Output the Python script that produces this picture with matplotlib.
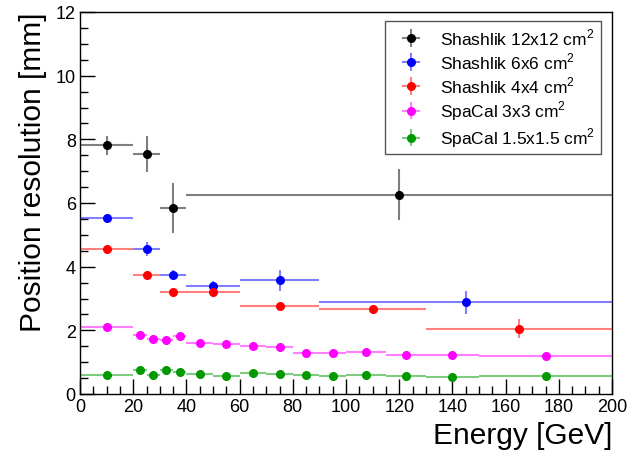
import matplotlib
matplotlib.use("Agg")
import matplotlib.pyplot as plt
from matplotlib.colors import to_rgba
from matplotlib.ticker import MultipleLocator

plt.rcParams['font.family'] = ['Liberation Sans', 'DejaVu Sans']
plt.rcParams['mathtext.fontset'] = 'custom'
plt.rcParams['mathtext.rm'] = 'Liberation Sans'

# Shashlik 12x12 cm^2
sh12_x = [10, 25, 35, 120]
sh12_xlo = [10, 5, 5, 80]
sh12_xhi = [10, 5, 5, 80]
sh12_y = [7.81, 7.54, 5.84, 6.26]
sh12_yerr = [0.30, 0.58, 0.78, 0.80]

# Shashlik 6x6 cm^2
sh6_x = [10, 25, 35, 50, 75, 145]
sh6_xlo = [10, 5, 5, 10, 15, 55]
sh6_xhi = [10, 5, 5, 10, 15, 55]
sh6_y = [5.52, 4.56, 3.75, 3.40, 3.58, 2.88]
sh6_yerr = [0.05, 0.22, 0.15, 0.15, 0.33, 0.37]

# Shashlik 4x4 cm^2
sh4_x = [10, 25, 35, 50, 75, 110, 165]
sh4_xlo = [10, 5, 5, 10, 15, 20, 35]
sh4_xhi = [10, 5, 5, 10, 15, 20, 35]
sh4_y = [4.56, 3.74, 3.21, 3.21, 2.76, 2.66, 2.05]
sh4_yerr = [0.05, 0.12, 0.06, 0.08, 0.10, 0.15, 0.30]

# SpaCal energy bins (shared by both SpaCal modules)
sp_x = [10, 22.5, 27.5, 32.5, 37.5, 45, 55, 65, 75, 85, 95, 107.5, 122.5, 140, 175]
sp_xerr = [10, 2.5, 2.5, 2.5, 2.5, 5, 5, 5, 5, 5, 5, 7.5, 7.5, 10, 25]

# SpaCal 3x3 cm^2
sp3_y = [2.11, 1.86, 1.74, 1.71, 1.81, 1.59, 1.56, 1.50, 1.48, 1.29, 1.29, 1.31, 1.23, 1.22, 1.19]
sp3_yerr = [0.04] * 15

# SpaCal 1.5x1.5 cm^2
sp15_y = [0.60, 0.74, 0.61, 0.75, 0.69, 0.63, 0.57, 0.65, 0.64, 0.60, 0.56, 0.61, 0.57, 0.54, 0.57]
sp15_yerr = [0.03] * 15

series = [
    ("Shashlik 12x12 cm$^{2}$", sh12_x, sh12_xlo, sh12_xhi, sh12_y, sh12_yerr, "black"),
    ("Shashlik 6x6 cm$^{2}$", sh6_x, sh6_xlo, sh6_xhi, sh6_y, sh6_yerr, "#0000ff"),
    ("Shashlik 4x4 cm$^{2}$", sh4_x, sh4_xlo, sh4_xhi, sh4_y, sh4_yerr, "#ff0000"),
    ("SpaCal 3x3 cm$^{2}$", sp_x, sp_xerr, sp_xerr, sp3_y, sp3_yerr, "#ff00ff"),
    ("SpaCal 1.5x1.5 cm$^{2}$", sp_x, sp_xerr, sp_xerr, sp15_y, sp15_yerr, "#009900"),
]

fig = plt.figure(figsize=(6.3, 4.56), dpi=100)
ax = fig.add_axes([80 / 630, 1 - 395 / 456, 532 / 630, 382 / 456])

for label, x, xlo, xhi, y, yerr, c in series:
    ax.errorbar(x, y, xerr=[xlo, xhi], yerr=yerr, fmt='o', color=c,
                ecolor=to_rgba(c, 0.5), elinewidth=1.5, capsize=0,
                markersize=5.5, label=label)

ax.set_xlim(0, 200)
ax.set_ylim(0, 12)
ax.xaxis.set_major_locator(MultipleLocator(20))
ax.xaxis.set_minor_locator(MultipleLocator(5))
ax.yaxis.set_major_locator(MultipleLocator(2))
ax.yaxis.set_minor_locator(MultipleLocator(0.5))
ax.tick_params(which='both', direction='in', top=False, right=False,
               labelsize=13, width=1)
ax.tick_params(which='major', length=11, pad=3)
ax.tick_params(which='minor', length=5.5)
for sp in ax.spines.values():
    sp.set_linewidth(1)

ax.set_xlabel("Energy [GeV]", fontsize=21.5, loc='right', labelpad=4)
ax.set_ylabel("Position resolution [mm]", fontsize=21.5, loc='top', labelpad=6)

leg = ax.legend(loc='upper left', bbox_to_anchor=(0.573, 0.976),
                borderaxespad=0, fontsize=12.5, frameon=True, fancybox=False,
                edgecolor='#555555', framealpha=1, handlelength=2.4,
                handletextpad=0.5, labelspacing=0.2, borderpad=0.3)
leg.get_frame().set_linewidth(1)

fig.savefig("out.png", dpi=100)
